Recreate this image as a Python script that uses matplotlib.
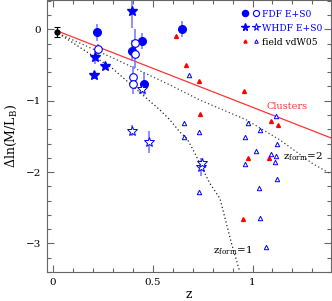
import matplotlib
matplotlib.use("Agg")
import matplotlib.pyplot as plt
from matplotlib.legend_handler import HandlerTuple
from matplotlib.ticker import MultipleLocator

plt.rcParams['font.family'] = ['DejaVu Serif']
plt.rcParams['mathtext.fontset'] = 'dejavuserif'

# local reference point
z_local, dml_local, err_local = [0.02], [-0.04], [0.07]

# FDF E+S0
fdf_fill_z = [0.22, 0.398, 0.448, 0.458, 0.645]
fdf_fill_y = [-0.04, -0.30, -0.16, -0.76, 0.0]
fdf_fill_e = [0.12, 0.15, 0.11, 0.16, 0.11]
fdf_open_z = [0.228, 0.41, 0.41, 0.40, 0.40]
fdf_open_y = [-0.28, -0.19, -0.34, -0.67, -0.76]
fdf_open_e = [0.08, 0.2, 0.2, 0.15, 0.15]

# WHDF E+S0
whdf_fill_z = [0.395, 0.21, 0.208, 0.26]
whdf_fill_y = [0.25, -0.39, -0.64, -0.51]
whdf_fill_e = [0.23, 0.10, 0.05, 0.05]
whdf_open_z = [0.445, 0.398, 0.48, 0.74, 0.745]
whdf_open_y = [-0.84, -1.42, -1.58, -1.93, -1.88]
whdf_open_e = [0.05, 0.08, 0.16, 0.12, 0.08]

# field vdW05
vdw_red_z = [0.617, 0.667, 0.73, 0.958, 0.737, 1.09, 1.13, 0.975, 1.08, 0.95]
vdw_red_y = [-0.09, -0.50, -0.73, -0.87, -1.19, -1.29, -1.34, -1.80, -1.81, -2.66]
vdw_blue_z = [0.68, 0.657, 0.657, 0.73, 0.978, 1.037, 0.962, 1.12, 1.123, 1.017,
              0.962, 1.09, 1.117, 1.113, 1.123, 1.03, 0.73, 1.037, 1.065]
vdw_blue_y = [-0.64, -1.31, -1.51, -1.44, -1.31, -1.41, -1.51, -1.22, -1.61, -1.70,
              -1.89, -1.75, -1.78, -1.86, -2.10, -2.22, -2.28, -2.64, -3.05]

# cluster relation and model tracks
clus_z = [0.02, 1.40]
clus_y = [-0.02, -1.53]
zf2_z = [0.03, 0.30, 0.587, 0.672, 0.736, 0.97, 1.137, 1.30, 1.40]
zf2_y = [-0.06, -0.40, -0.78, -0.90, -0.99, -1.27, -1.55, -1.88, -2.04]
zf1_z = [0.03, 0.30, 0.537, 0.587, 0.637, 0.672, 0.703, 0.787, 0.837, 0.895, 0.937]
zf1_y = [-0.06, -0.55, -1.13, -1.27, -1.44, -1.53, -1.69, -2.16, -2.37, -3.0, -3.40]

blue = '#0000ff'
ebc = '#7070ff'

fig = plt.figure(figsize=(3.32, 3.01), dpi=100)
ax = fig.add_axes([0.1416, 0.0963, 0.855, 0.9037])

ax.plot(clus_z, clus_y, color='#ff3333', lw=0.9)
ax.plot(zf2_z, zf2_y, color='#444444', ls=(0, (1, 2)), lw=0.9)
ax.plot(zf1_z, zf1_y, color='#222222', ls=(0, (1, 2)), lw=0.9)

ax.errorbar(z_local, dml_local, yerr=err_local, fmt='o', color='k', ms=3.5,
            capsize=2, elinewidth=0.8, capthick=0.8)

for zz, yy, ee in [(fdf_fill_z, fdf_fill_y, fdf_fill_e), (fdf_open_z, fdf_open_y, fdf_open_e),
                   (whdf_fill_z, whdf_fill_y, whdf_fill_e), (whdf_open_z, whdf_open_y, whdf_open_e)]:
    ax.errorbar(zz, yy, yerr=ee, fmt='none', ecolor=ebc, elinewidth=1.1)

fdf_f, = ax.plot(fdf_fill_z, fdf_fill_y, 'o', color=blue, ms=5.5, ls='none')
fdf_o, = ax.plot(fdf_open_z, fdf_open_y, 'o', mfc='white', mec=blue, mew=0.8, ms=5.5, ls='none')
wh_f, = ax.plot(whdf_fill_z, whdf_fill_y, '*', color=blue, ms=7, ls='none')
wh_o, = ax.plot(whdf_open_z, whdf_open_y, '*', mfc='white', mec=blue, mew=0.7, ms=7, ls='none')
v_r, = ax.plot(vdw_red_z, vdw_red_y, '^', color='red', ms=2.8, ls='none')
v_b, = ax.plot(vdw_blue_z, vdw_blue_y, '^', mfc='white', mec=blue, mew=0.7, ms=3.2, ls='none')

leg = ax.legend([(fdf_f, fdf_o), (wh_f, wh_o), (v_r, v_b)],
                ['FDF E+S0', 'WHDF E+S0', 'field vdW05'],
                handler_map={tuple: HandlerTuple(ndivide=None, pad=0.9)},
                loc='upper right', bbox_to_anchor=(0.99, 0.985), frameon=False,
                fontsize=6.6, markerscale=0.8, handlelength=1.5,
                handletextpad=0.5, labelspacing=0.55, borderaxespad=0.2)
for t in leg.get_texts():
    t.set_color(blue)
leg.get_texts()[2].set_color('black')

ax.text(1.07, -1.08, 'Clusters', color='#ff3333', fontsize=7, va='center')
ax.text(1.155, -1.79, r'$\mathrm{z_{form}}\!=\!2$', fontsize=7.5, va='center')
ax.text(0.80, -3.1, r'$\mathrm{z_{form}}\!=\!1$', fontsize=7.5, va='center')

ax.set_xlim(-0.028, 1.392)
ax.set_ylim(-3.4, 0.41)
ax.xaxis.set_minor_locator(MultipleLocator(0.1))
ax.yaxis.set_minor_locator(MultipleLocator(0.2))
ax.set_xticks([0, 0.5, 1])
ax.set_xticklabels(['0', '0.5', '1'])
ax.set_yticks([-3, -2, -1, 0])
ax.set_yticklabels(['\u22123', '\u22122', '\u22121', '0'])
ax.tick_params(which='both', direction='in', top=True, right=True, color='#666666', labelsize=7.5)
ax.tick_params(which='major', length=5, width=0.8, pad=4)
ax.tick_params(which='minor', length=3, width=0.8)
for s in ax.spines.values():
    s.set_color('#666666')

ax.set_xlabel('z', fontsize=9, labelpad=1)
ax.set_ylabel(r'$\Delta\mathrm{ln(M/L_B)}$', fontsize=9, labelpad=5)

fig.savefig('out.png', dpi=100)
